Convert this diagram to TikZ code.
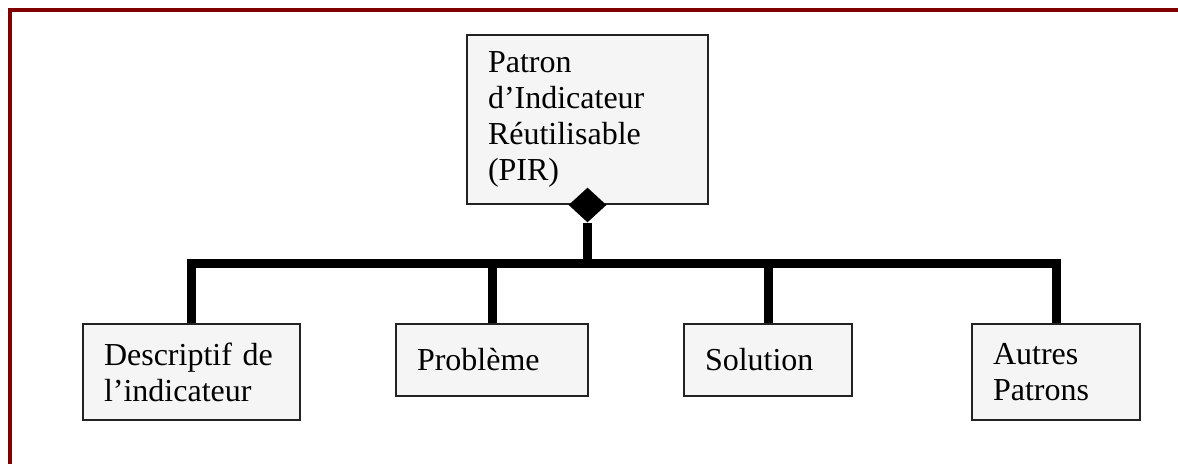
\documentclass[tikz,border=0pt]{standalone}
\usepackage{fontspec}
\setmainfont{Liberation Serif}
\usepackage{tikz}
\usetikzlibrary{positioning, arrows.meta, calc, shapes.geometric}
\usepackage{xcolor}
\definecolor{framered}{HTML}{800000}
\definecolor{boxbg}{HTML}{F5F5F5}
\definecolor{boxline}{HTML}{222222}
\tikzset{
  base/.style={draw=boxline, fill=boxbg, line width=1pt, align=left,
               inner xsep=10.5pt, inner ysep=2pt,
               font=\fontsize{16}{18}\selectfont},
  parent/.style={base, text width=99.5pt, minimum height=84.5pt},
  partbox/.style={base, minimum height=#1},
  agg/.style={diamond, fill=black, draw=none, inner sep=0pt,
              minimum width=19pt, minimum height=17.5pt},
  conn/.style={draw=black, line width=4.5pt, line join=miter},
  frame/.style={draw=framered, line width=2pt},
}
\begin{document}
\begin{tikzpicture}[x=0.5pt, y=-0.5pt]

\useasboundingbox (0,0) rectangle (1178,464);

%% ====================  FRAME  ====================

\draw[frame] (1178,10) -- (10,10) -- (10,464);

%% ====================  PARENT  ====================

\node[parent] (pir) at (587.5,119.5)
  {Patron\\d’Indicateur\\Réutilisable\\(PIR)};
\node[agg] (agg) at (pir.south) {};

%% ====================  PARTS  ====================

\node[partbox=48pt, text width=87.5pt] (desc) at (191.5,372)
  {Descriptif de\\l’indicateur};
\node[partbox=36pt, text width=75pt] (prob) at (492,360) {Problème};
\node[partbox=36pt, text width=63pt] (sol) at (768,360) {Solution};
\node[partbox=48pt, text width=63pt] (autres) at (1056,372)
  {Autres\\Patrons};

%% ====================  CONNECTORS  ====================

\coordinate (bus) at (588,264);

\draw[conn] (agg.south) -- (agg.south |- bus);
\draw[conn] (desc.north) |- (bus) -| (autres.north);
\draw[conn] (prob.north) -- (prob.north |- bus);
\draw[conn] (sol.north) -- (sol.north |- bus);

\end{tikzpicture}
\end{document}
